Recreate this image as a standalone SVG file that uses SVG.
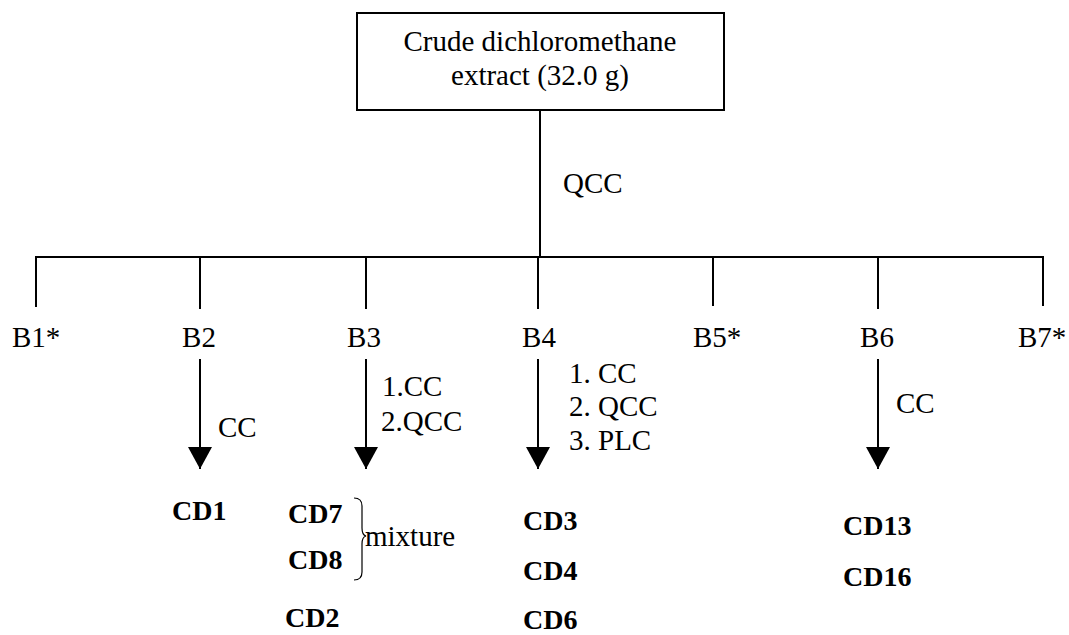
<svg xmlns="http://www.w3.org/2000/svg" width="1069" height="635" viewBox="0 0 1069 635">
<style>
.t{font-size:29px;fill:#000}
.b{font-size:28px;font-weight:bold;fill:#000}
.ln{stroke:#000;stroke-width:2;fill:none}
</style>
<defs>
<marker id="ah" markerWidth="22" markerHeight="24" refX="22" refY="12" orient="auto" markerUnits="userSpaceOnUse" viewBox="0 0 22 24">
<path d="M0,0 L22,12 L0,24 Z" fill="#000"/>
</marker>
</defs>
<rect width="1069" height="635" fill="#fff"/>
<g font-family="Liberation Serif, DejaVu Serif, serif">
<g id="root">
<rect x="357" y="13" width="367" height="97" class="ln"/>
<text class="t" x="540" y="51" text-anchor="middle">Crude dichloromethane</text>
<text class="t" x="540" y="85" text-anchor="middle">extract (32.0 g)</text>
</g>
<g id="connectors">
<line class="ln" x1="540" y1="110" x2="540" y2="257"/>
<line class="ln" x1="35" y1="257" x2="1044" y2="257"/>
<line class="ln" x1="36" y1="257" x2="36" y2="307"/>
<line class="ln" x1="200" y1="257" x2="200" y2="309"/>
<line class="ln" x1="366" y1="257" x2="366" y2="309"/>
<line class="ln" x1="538" y1="257" x2="538" y2="309"/>
<line class="ln" x1="713" y1="257" x2="713" y2="306"/>
<line class="ln" x1="878" y1="257" x2="878" y2="309"/>
<line class="ln" x1="1043" y1="257" x2="1043" y2="306"/>
<line class="ln" x1="200" y1="359" x2="200" y2="469" marker-end="url(#ah)"/>
<line class="ln" x1="366" y1="359" x2="366" y2="469" marker-end="url(#ah)"/>
<line class="ln" x1="538" y1="359" x2="538" y2="469" marker-end="url(#ah)"/>
<line class="ln" x1="878" y1="359" x2="878" y2="469" marker-end="url(#ah)"/>
<text class="t" x="563" y="193">QCC</text>
<text class="t" x="218" y="437">CC</text>
<text class="t" x="382" y="396">1.CC</text>
<text class="t" x="381" y="431">2.QCC</text>
<text class="t" x="569" y="383">1. CC</text>
<text class="t" x="569" y="416">2. QCC</text>
<text class="t" x="569" y="450">3. PLC</text>
<text class="t" x="896" y="413">CC</text>
</g>
<g id="B1"><text class="t" x="12" y="347">B1*</text></g>
<g id="B2"><text class="t" x="199" y="347" text-anchor="middle">B2</text></g>
<g id="B3"><text class="t" x="364" y="347" text-anchor="middle">B3</text></g>
<g id="B4"><text class="t" x="539" y="347" text-anchor="middle">B4</text></g>
<g id="B5"><text class="t" x="693" y="347">B5*</text></g>
<g id="B6"><text class="t" x="877" y="347" text-anchor="middle">B6</text></g>
<g id="B7"><text class="t" x="1018" y="347">B7*</text></g>
<g id="CD1"><text class="b" x="172" y="520">CD1</text></g>
<g id="CD7"><text class="b" x="288" y="523">CD7</text></g>
<g id="CD8"><text class="b" x="288" y="569">CD8</text></g>
<g id="mixture">
<path d="M354,498 Q362,498 362,506 L362,528 Q362,535 366,536 Q362,537 362,544 L362,572 Q362,580 354,580" fill="none" stroke="#000" stroke-width="1.2"/>
<text class="t" x="365" y="546">mixture</text>
</g>
<g id="CD2"><text class="b" x="285" y="627">CD2</text></g>
<g id="CD3"><text class="b" x="523" y="530">CD3</text></g>
<g id="CD4"><text class="b" x="523" y="580">CD4</text></g>
<g id="CD6"><text class="b" x="523" y="629">CD6</text></g>
<g id="CD13"><text class="b" x="843" y="535">CD13</text></g>
<g id="CD16"><text class="b" x="843" y="586">CD16</text></g>
</g>
</svg>
